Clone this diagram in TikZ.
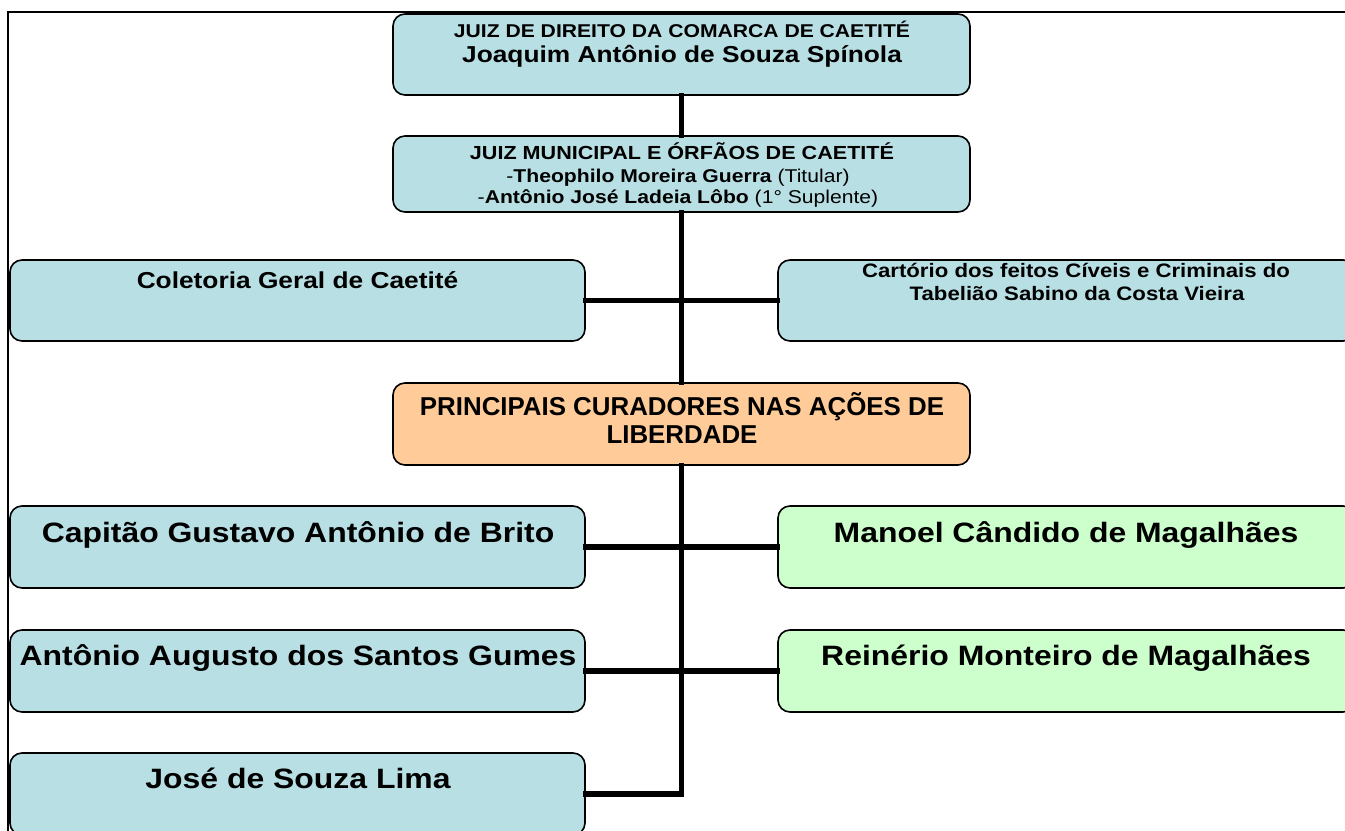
\documentclass[tikz,border=0pt]{standalone}
\usepackage{fontspec}
\setmainfont[FakeStretch=1.14]{Liberation Sans}
\newfontfamily\plainsans{Liberation Sans}
\definecolor{teal}{RGB}{184,223,227}
\definecolor{mint}{RGB}{204,255,204}
\definecolor{peach}{RGB}{255,204,153}
\newcommand{\fs}[1]{\fontsize{#1}{1.15\dimexpr#1\relax}\selectfont}
\tikzset{
  orgbox/.style={draw=black, line width=1.2pt, rounded corners=9pt, inner sep=0pt, fill=teal},
  wl/.style={minimum width=431.25pt},
  wc/.style={minimum width=432.75pt},
  hA/.style={minimum height=61.5pt},
  conn/.style={line width=3.9pt, line join=miter, line cap=rect},
  frameline/.style={line width=1.5pt},
  txt/.style={anchor=base, inner sep=0pt, font=\bfseries},
  small/.style={txt, font=\bfseries\fs{13.9pt}},
  mid/.style={txt, font=\bfseries\fs{17.3pt}},
  big/.style={txt, font=\bfseries\fs{21pt}},
  head/.style={txt, font=\plainsans\bfseries\fs{19.4pt}},
}
\begin{document}
\begin{tikzpicture}[x=0.75pt, y=-0.75pt]
\path[use as bounding box] (0,0) rectangle (1345,831);
\clip (0,0) rectangle (1345,831);
% frame
\draw[frameline] (1345,12) -- (8,12) -- (8,831);
% boxes
\node[orgbox, wc, minimum height=60.75pt] (top) at (681.5,54.5) {};
\node[orgbox, wc, minimum height=57pt] (jm) at (681.5,174) {};
\node[orgbox, wl, minimum height=60.75pt] (col) at (297.5,300.5) {};
\node[orgbox, wc, minimum height=60.75pt] (cart) at (1066.5,300.5) {};
\node[orgbox, wc, hA, fill=peach] (cur) at (681.5,424) {};
\node[orgbox, wl, hA] (cap) at (297.5,547) {};
\node[orgbox, wc, hA, fill=mint] (man) at (1066.5,547) {};
\node[orgbox, wl, hA] (aag) at (297.5,671) {};
\node[orgbox, wc, hA, fill=mint] (rei) at (1066.5,671) {};
\node[orgbox, wl, hA] (jsl) at (297.5,794) {};
% connectors
\draw[conn] (top.south) -- (jm.north);
\draw[conn] (jm.south) -- (cur.north);
\draw[conn] (cur.south) |- (jsl.east);
\draw[conn] (col.east) -- (cart.west);
\draw[conn] (cap.east) -- (man.west);
\draw[conn] (aag.east) -- (rei.west);
% texts
\node[small] (t1) at (682,38) {JUIZ DE DIREITO DA COMARCA DE CAETITÉ};
\node[mid] (t2) at (682,63) {Joaquim Antônio de Souza Spínola};
\node[small, font=\bfseries\fs{14.2pt}] (j1) at (682,160) {JUIZ MUNICIPAL E ÓRFÃOS DE CAETITÉ};
\node[small] (j2) at (678,182) {\mdseries-\bfseries Theophilo Moreira Guerra \mdseries(Titular)};
\node[small] (j3) at (678,203) {\mdseries-\bfseries Antônio José Ladeia Lôbo \mdseries(1° Suplente)};
\node[mid] (colt) at (297.5,288) {Coletoria Geral de Caetité};
\node[small, font=\bfseries\fs{14.6pt}] (c1) at (1076,277) {Cartório dos feitos Cíveis e Criminais do};
\node[small, font=\bfseries\fs{14.6pt}] (c2) at (1077,300) {Tabelião Sabino da Costa Vieira};
\node[head] (u1) at (682,415) {PRINCIPAIS CURADORES NAS AÇÕES DE};
\node[head] (u2) at (682,443) {LIBERDADE};
\node[big] (capt) at (298,542) {Capitão Gustavo Antônio de Brito};
\node[big] (mant) at (1066,542) {Manoel Cândido de Magalhães};
\node[big] (aagt) at (298,665) {Antônio Augusto dos Santos Gumes};
\node[big] (reit) at (1066,665) {Reinério Monteiro de Magalhães};
\node[big] (jslt) at (298,788) {José de Souza Lima};
\end{tikzpicture}
\end{document}
